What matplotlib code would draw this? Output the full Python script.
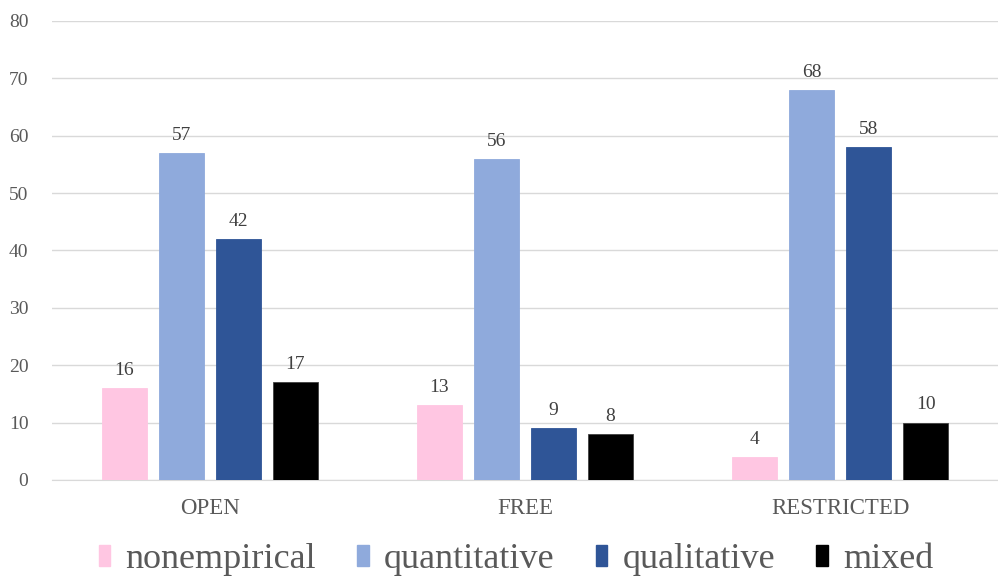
import matplotlib
matplotlib.use("Agg")
import matplotlib.pyplot as plt
import numpy as np
from matplotlib.patches import Patch

categories = ["OPEN", "FREE", "RESTRICTED"]
series_names = ["nonempirical", "quantitative", "qualitative", "mixed"]
nonempirical = [16, 13, 4]
quantitative = [57, 56, 68]
qualitative = [42, 9, 58]
mixed = [17, 8, 10]
colors = ["#FFC6E2", "#8FAADC", "#2F5597", "#000000"]

plt.rcParams["font.family"] = ["Liberation Serif", "DejaVu Serif"]
fig = plt.figure(figsize=(9.98, 5.79), dpi=100)
ax = fig.add_axes([52/998, 1-480/579, 946/998, 459/579])

x = np.arange(len(categories))
w = 0.143
step = 0.181
data = [nonempirical, quantitative, qualitative, mixed]
for i, (vals, c) in enumerate(zip(data, colors)):
    pos = x + (i - 1.5) * step
    ax.bar(pos, vals, width=w, color=c, zorder=3,
           edgecolor="#404040" if c == "#000000" else c, linewidth=0.6)
    for p, v in zip(pos, vals):
        ax.text(p, v + 1.6, str(v), ha="center", va="bottom", fontsize=14, color="#404040")

ax.set_xlim(-0.5, 2.5)
ax.set_ylim(0, 80)
ax.set_yticks(range(0, 81, 10))
ax.grid(axis="y", color="#D9D9D9", linewidth=1, zorder=0)
ax.set_xticks(x)
ax.set_xticklabels(categories, fontsize=16.5, color="#595959")
ax.tick_params(axis="y", labelsize=14, labelcolor="#595959", length=0, pad=17)
ax.tick_params(axis="x", length=0, pad=13)
for s in ["top", "right", "left"]:
    ax.spines[s].set_visible(False)
ax.spines["bottom"].set_color("#D9D9D9")

handles = [Patch(facecolor=c, edgecolor=c) for c in colors]
leg = fig.legend(handles, series_names, loc="center", bbox_to_anchor=(516/998, 1-560/579),
                 ncol=4, frameon=False, fontsize=26, handlelength=0.31, handleheight=0.5,
                 handletextpad=0.42, columnspacing=1.15, borderpad=0)
for t in leg.get_texts():
    t.set_color("#595959")

fig.savefig("out.png", dpi=100)
